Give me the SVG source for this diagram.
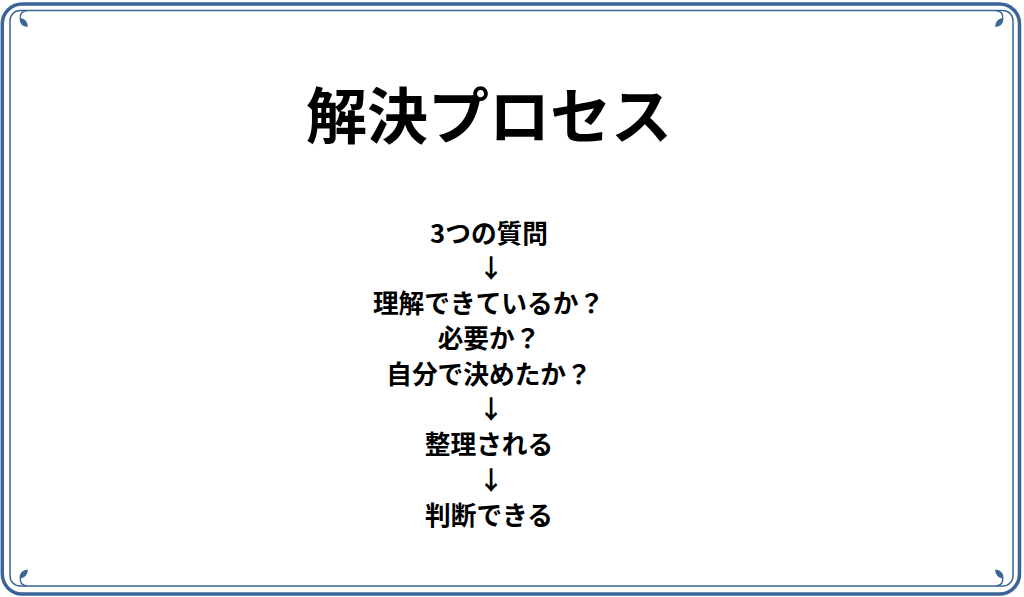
<svg xmlns="http://www.w3.org/2000/svg" width="1024" height="597" viewBox="0 0 1024 597">
<defs>
<style>
.frame{fill:none;stroke:#3a6596}
.leaf{fill:#3a6596}
.stem{fill:none;stroke:#3a6596;stroke-width:1.5}
.t{font-family:"Noto Sans CJK JP","Noto Sans CJK SC",sans-serif;font-weight:700;fill:#000;text-anchor:middle}
.title{font-size:61px}
.body{font-size:25.7px}
</style>
<g id="corner">
<path class="stem" d="M27 10.5 C22 11 19.5 14 20.5 18.5"/>
<path class="leaf" d="M19.5 18 Q27.5 18.5 28 27 Q19.5 26.5 19.5 18 Z"/>
</g>
</defs>
<rect width="1024" height="597" fill="#ffffff"/>
<g id="border">
<rect class="frame" x="2.3" y="4" width="1017.2" height="590" rx="20" stroke-width="3.5"/>
<rect class="frame" x="10" y="10.5" width="1003" height="575.5" rx="10" stroke-width="1.5"/>
<use href="#corner"/>
<use href="#corner" transform="translate(1023,0) scale(-1,1)"/>
<use href="#corner" transform="translate(0,596.5) scale(1,-1)"/>
<use href="#corner" transform="translate(1023,596.5) scale(-1,-1)"/>
</g>
<g id="title">
<text class="t title" x="489" y="138.5">解決プロセス</text>
</g>
<g id="flow">
<text class="t body" x="489" y="242.5">3つの質問</text>
<text class="t body" x="491" y="277.8">↓</text>
<text class="t body" x="488.5" y="313.1">理解できているか？</text>
<text class="t body" x="489" y="348.4">必要か？</text>
<text class="t body" x="489" y="383.7">自分で決めたか？</text>
<text class="t body" x="491" y="419">↓</text>
<text class="t body" x="489" y="454.3">整理される</text>
<text class="t body" x="491" y="489.6">↓</text>
<text class="t body" x="489" y="524.9">判断できる</text>
</g>
</svg>
